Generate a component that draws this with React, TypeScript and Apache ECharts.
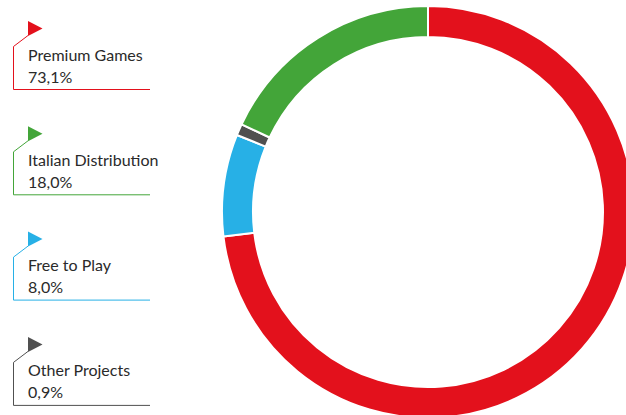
import React, { useEffect, useRef } from "react";
import * as echarts from "echarts";

const sliceNames = ["Premium Games", "Free to Play", "Other Projects", "Italian Distribution"];
const sliceValues = [73.1, 8.0, 0.9, 18.0];
const sliceColors = ["#E3111C", "#27B0E6", "#505050", "#43A539"];

const legendNames = ["Premium Games", "Italian Distribution", "Free to Play", "Other Projects"];
const legendValues = [73.1, 18.0, 8.0, 0.9];
const legendColors = ["#E3111C", "#43A539", "#27B0E6", "#505050"];

function fmt(v: number) {
  return v.toFixed(1).replace(".", ",") + "%";
}

export default function App() {
  const ref = useRef<HTMLDivElement>(null);
  useEffect(() => {
    if (!ref.current) return;
    const chart = echarts.init(ref.current, undefined, { renderer: "svg" });
    const graphics: any[] = [];
    legendNames.forEach((name, i) => {
      const oy = 10 + i * 105.3;
      const c = legendColors[i];
      graphics.push({
        type: "polygon",
        shape: { points: [[28, oy + 11], [42.5, oy + 18.5], [28, oy + 26]] },
        style: { fill: c },
      });
      graphics.push({
        type: "polyline",
        shape: { points: [[28, oy + 25.5], [13.5, oy + 36.5], [13.5, oy + 79.5], [150, oy + 79.5]] },
        style: { stroke: c, lineWidth: 1, fill: null },
      });
      graphics.push({
        type: "text",
        x: 28,
        y: oy + 44,
        style: { text: name, fill: "#2a2a2a", font: "16px Lato", verticalAlign: "middle", align: "left" },
      });
      graphics.push({
        type: "text",
        x: 28,
        y: oy + 66,
        style: { text: fmt(legendValues[i]), fill: "#2a2a2a", font: "16px Lato", verticalAlign: "middle", align: "left" },
      });
    });
    chart.setOption({
      animation: false,
      backgroundColor: "#ffffff",
      series: [
        {
          type: "pie",
          center: [428, 212],
          radius: [175, 206],
          startAngle: 90,
          clockwise: true,
          label: { show: false },
          labelLine: { show: false },
          emphasis: { disabled: true },
          itemStyle: { borderColor: "#ffffff", borderWidth: 2 },
          data: sliceNames.map((n, i) => ({ name: n, value: sliceValues[i], itemStyle: { color: sliceColors[i] } })),
        },
      ],
      graphic: graphics,
    });
    return () => chart.dispose();
  }, []);
  return <div ref={ref} style={{ position: "fixed", left: 0, top: 0, width: 626, height: 415 }} />;
}
